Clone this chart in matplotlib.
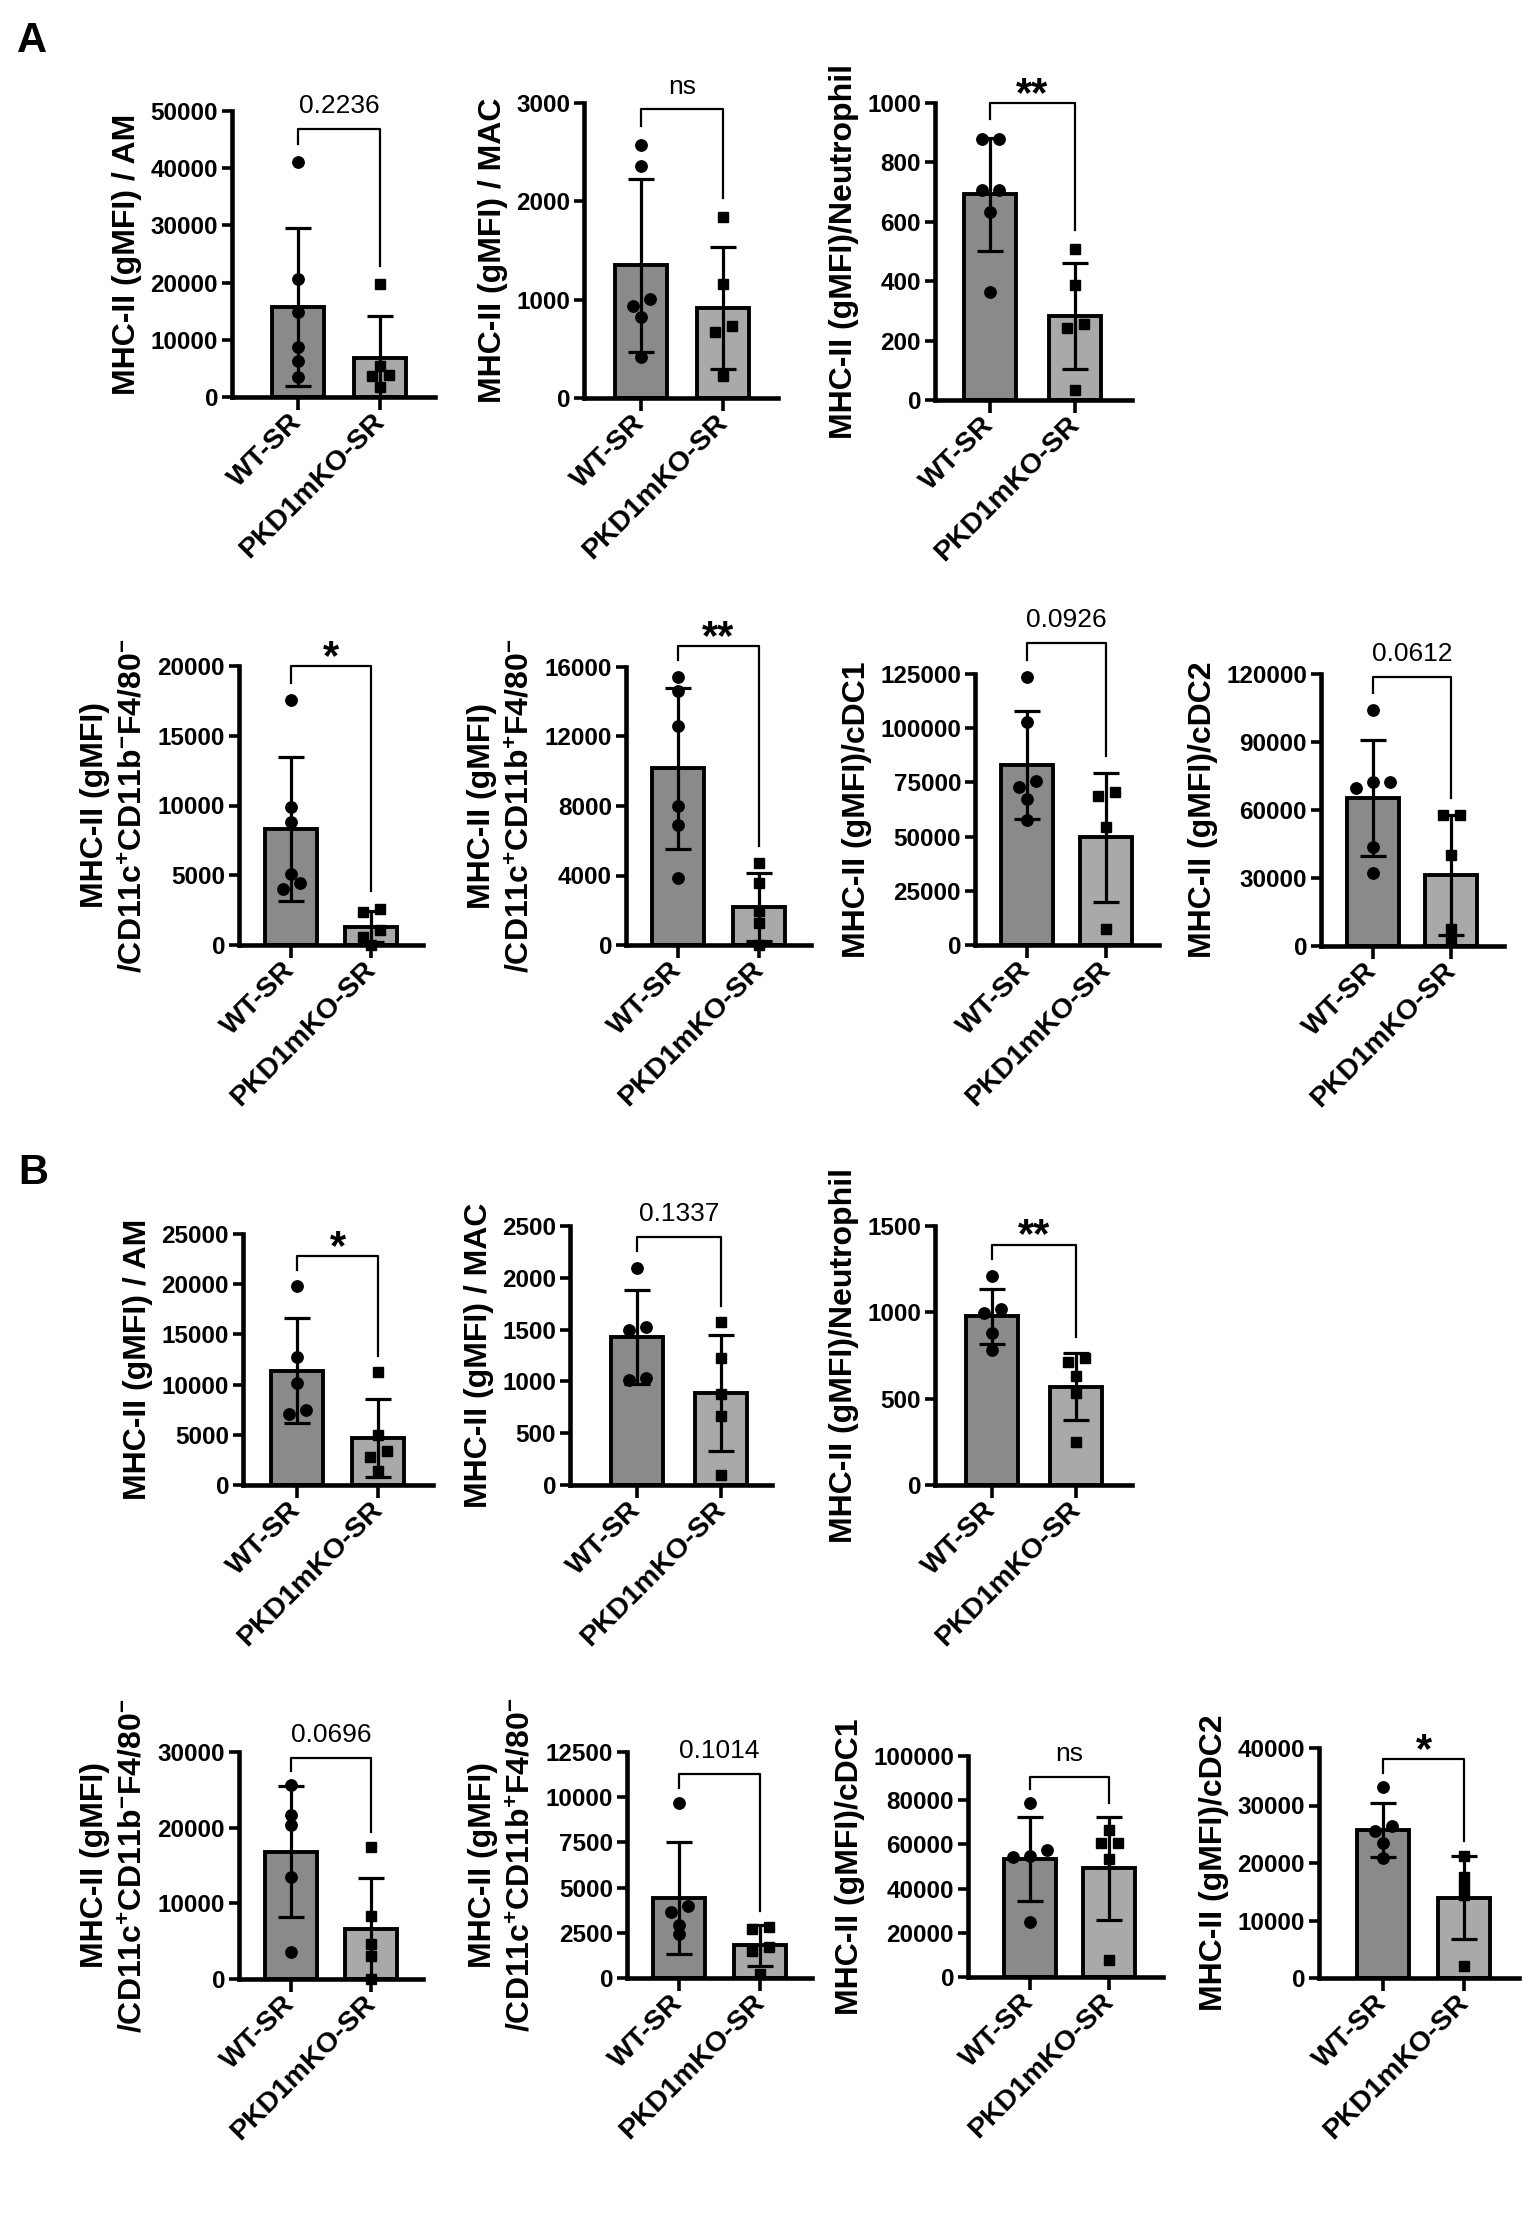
#!/usr/bin/env python3
"""MHC-II gMFI per cell type, WT-SR vs PKD1mKO-SR (panels A and B)."""

import matplotlib
import numpy as np

matplotlib.use("Agg")
import matplotlib.pyplot as plt

plt.rcParams["font.family"] = ["Liberation Sans", "DejaVu Sans"]
plt.rcParams["mathtext.default"] = "regular"

groups = ["WT-SR", "PKD1mKO-SR"]

LBL_AM = "MHC-II (gMFI) / AM"
LBL_MAC = "MHC-II (gMFI) / MAC"
LBL_NEU = "MHC-II (gMFI)/Neutrophil"
LBL_CD11B_NEG = "MHC-II (gMFI)\n/CD11c$^{+}$CD11b$^{-}$F4/80$^{-}$"
LBL_CD11B_POS = "MHC-II (gMFI)\n/CD11c$^{+}$CD11b$^{+}$F4/80$^{-}$"
LBL_CDC1 = "MHC-II (gMFI)/cDC1"
LBL_CDC2 = "MHC-II (gMFI)/cDC2"

# panel order: A1..A7, B1..B7
ylabels = [LBL_AM, LBL_MAC, LBL_NEU, LBL_CD11B_NEG, LBL_CD11B_POS, LBL_CDC1, LBL_CDC2,
           LBL_AM, LBL_MAC, LBL_NEU, LBL_CD11B_NEG, LBL_CD11B_POS, LBL_CDC1, LBL_CDC2]
ymaxs = [50000, 3000, 1000, 20000, 16000, 125000, 120000,
         25000, 2500, 1500, 30000, 12500, 100000, 40000]
ysteps = [10000, 1000, 200, 5000, 4000, 25000, 30000,
          5000, 500, 500, 10000, 2500, 20000, 10000]

wt_means = [15800, 1350, 692, 8300, 10170, 83100, 65300,
            11400, 1428, 976, 16800, 4440, 53200, 25800]
wt_sds = [13800, 880, 190, 5150, 4630, 25000, 25400,
          5200, 450, 162, 8650, 3100, 19000, 4700]
ko_means = [6900, 920, 284, 1310, 2180, 49700, 31300,
            4700, 888, 570, 6600, 1810, 49200, 14000]
ko_sds = [7200, 620, 178, 1100, 1950, 29700, 26600,
          3900, 560, 192, 6800, 1120, 23200, 7200]

wt_points = [
    [41000, 20700, 14900, 8800, 6300, 3500],
    [2573, 2363, 1010, 933, 824, 420],
    [879, 879, 708, 708, 634, 363],
    [17550, 9880, 8790, 5080, 4420, 4010],
    [15400, 14600, 12600, 8000, 6900, 3850],
    [123800, 102900, 75800, 73000, 67400, 57500],
    [104200, 72400, 72400, 69700, 43700, 32100],
    [19800, 12700, 10200, 7500, 7100],
    [2099, 1524, 1499, 1029, 1010],
    [1212, 1018, 996, 883, 784],
    [25600, 21700, 20300, 13500, 3550],
    [9700, 3960, 3660, 2920, 2450],
    [78600, 57600, 54800, 54400, 24800],
    [33200, 26500, 25600, 23500, 20900],
]
ko_points = [
    [19700, 5400, 3900, 3700, 1700],
    [1842, 1158, 731, 676, 222],
    [508, 386, 257, 241, 32],
    [2600, 2400, 1100, 600, 0],
    [4700, 3570, 1950, 1280, 0],
    [70700, 68600, 54400, 7200],
    [57900, 57900, 40100, 7300, 2200],
    [11300, 5000, 3400, 2800, 1400],
    [1575, 1222, 882, 670, 96],
    [736, 713, 631, 530, 250],
    [17500, 8300, 4600, 3000, 0],
    [2800, 2700, 1700, 1500, 200],
    [66500, 60800, 60800, 53200, 7900],
    [21300, 17600, 16000, 14500, 2050],
]

pvals = ["0.2236", "ns", "**", "*", "**", "0.0926", "0.0612",
         "*", "0.1337", "**", "0.0696", "0.1014", "ns", "*"]
bracket_levels = [46800, 2934, 1000, 20000, 17200, 139500, 118800,
                  22800, 2395, 1392, 29200, 11300, 90400, 38100]

# layout in pixels: left spine, top, right end, bottom, WT centre, KO centre
W, H = 1535, 2232
boxes = [
    (232, 111, 435, 397, 298, 380),
    (584, 103, 778, 398, 641, 723),
    (935, 103, 1132, 400, 990, 1075),
    (239, 666, 423, 945, 291, 371),
    (626, 667, 811, 945, 678, 759),
    (975, 674, 1159, 945, 1027, 1106),
    (1321, 674, 1504, 946, 1373, 1451),
    (243, 1234, 433, 1485, 297, 378),
    (570, 1226, 772, 1485, 637, 721),
    (935, 1226, 1132, 1485, 992, 1076),
    (239, 1752, 423, 1979, 291, 371),
    (627, 1752, 812, 1978, 679, 760),
    (968, 1756, 1163, 1977, 1030, 1109),
    (1319, 1748, 1519, 1978, 1383, 1464),
]

WT_COLOR = "#8a8a8a"
KO_COLOR = "#a9a9a9"


def swarm_offsets(vals, px_per_unit, thresh=8.0):
    """Spread points that sit too close vertically, Prism style."""
    vals = np.asarray(vals, dtype=float)
    order = np.argsort(vals)[::-1]
    offs = np.zeros(len(vals))
    clusters, cur = [], [order[0]]
    for a, b in zip(order[:-1], order[1:]):
        if (vals[a] - vals[b]) * px_per_unit < thresh:
            cur.append(b)
        else:
            clusters.append(cur)
            cur = [b]
    clusters.append(cur)
    for c in clusters:
        n = len(c)
        for i, idx in enumerate(c):
            offs[idx] = (n - 1) / 2 - i
    return offs


def draw_panel(fig, i):
    L, T, R, B, xw, xk = boxes[i]
    ax = fig.add_axes([L / W, 1 - B / H, (R - L) / W, (B - T) / H])
    sp = float(xk - xw)
    ymax = ymaxs[i]
    px_per_unit = (B - T) / ymax

    ax.set_xlim(-(xw - L) / sp, 1 + (R - xk) / sp)
    ax.set_ylim(0, ymax)

    means = [wt_means[i], ko_means[i]]
    sds = [wt_sds[i], ko_sds[i]]
    ax.bar([0, 1], means, width=52 / sp, color=[WT_COLOR, KO_COLOR],
           edgecolor="black", linewidth=2.8, zorder=2)
    ax.errorbar([0, 1], means, yerr=sds, fmt="none", ecolor="black",
                elinewidth=2.3, capsize=9.5, capthick=2.3, zorder=3)

    for gx, pts, mk, ms in [(0, wt_points[i], "o", 8.2), (1, ko_points[i], "s", 7.2)]:
        offs = swarm_offsets(pts, px_per_unit)
        ax.plot(gx + offs * 17 / sp, pts, linestyle="none", marker=mk,
                markersize=ms, color="black", zorder=4, clip_on=False)

    # significance bracket
    leg_l = max(max(wt_points[i]), means[0] + sds[0]) + 0.063 * ymax
    leg_r = max(max(ko_points[i]), means[1] + sds[1]) + 0.063 * ymax
    lvl = bracket_levels[i]
    ax.plot([0, 0, 1, 1], [leg_l, lvl, lvl, leg_r], color="black",
            linewidth=1.6, clip_on=False, zorder=5)
    txt = pvals[i]
    if "*" in txt:
        ax.annotate(txt, xy=(0.5, lvl), xytext=(0, -2), textcoords="offset points",
                    ha="center", va="baseline", fontsize=30, fontweight="bold",
                    annotation_clip=False)
    else:
        ax.annotate(txt, xy=(0.5, lvl), xytext=(0, 11.5), textcoords="offset points",
                    ha="center", va="baseline", fontsize=19, annotation_clip=False)

    for s in ["top", "right"]:
        ax.spines[s].set_visible(False)
    for s in ["left", "bottom"]:
        ax.spines[s].set_linewidth(3.3)
        ax.spines[s].set_capstyle("projecting")

    ticks = np.arange(0, ymax + 1, ysteps[i])
    ax.set_yticks(ticks)
    ax.set_yticklabels([f"{int(v)}" for v in ticks], fontsize=17.5, fontweight="bold")
    ax.tick_params(axis="y", length=7, width=2.6, pad=3)
    ax.set_xticks([0, 1])
    ax.set_xticklabels(groups, rotation=45, ha="right", va="center",
                       rotation_mode="anchor", fontsize=20.5, fontweight="bold")
    ax.tick_params(axis="x", length=9, width=2.6, pad=6)
    ax.set_ylabel(ylabels[i], fontsize=23, fontweight="bold", labelpad=6,
                  linespacing=1.4)
    return ax


def main():
    fig = plt.figure(figsize=(W / 100, H / 100), dpi=100)
    for i in range(len(boxes)):
        draw_panel(fig, i)
    fig.text(32 / W, 1 - 41 / H, "A", fontsize=30, fontweight="bold",
             ha="center", va="center")
    fig.text(33 / W, 1 - 1173 / H, "B", fontsize=30, fontweight="bold",
             ha="center", va="center")
    fig.savefig("out.png", dpi=100)
    plt.close(fig)


if __name__ == "__main__":
    main()
